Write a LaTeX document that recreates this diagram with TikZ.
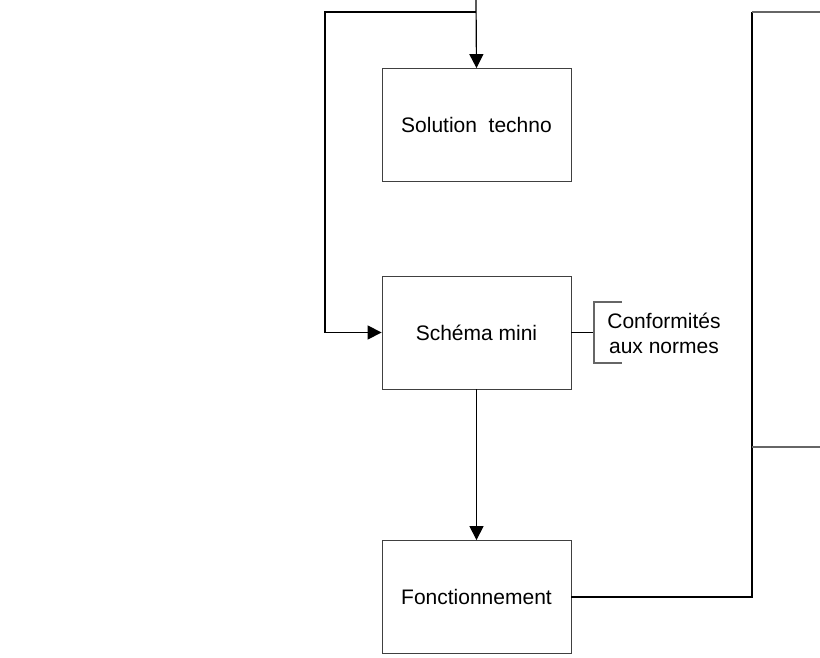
\documentclass[tikz,border=0pt]{standalone}
\usepackage{fontspec}
\setmainfont{Liberation Sans}
\usepackage{tikz}
\usetikzlibrary{arrows.meta, positioning}
\tikzset{
  stagebox/.style={draw=black!75, thin, minimum width=94.5pt, minimum height=56.5pt, inner sep=0pt, align=center, font=\fontsize{10.5}{12.5}\selectfont},
  flowline/.style={-{Triangle[length=7pt,width=7pt]}, draw=black, semithick},
  plainline/.style={draw=black, semithick},
  greyline/.style={draw=black!60, semithick},
  notelabel/.style={inner sep=0pt, align=center, font=\fontsize{10.5}{12.5}\selectfont}
}

\begin{document}
\begin{tikzpicture}[x=0.5pt, y=-0.5pt]
  \useasboundingbox (0,0) rectangle (820,658);

  \node[stagebox] at (476.5,125) (solution) {Solution\ \ techno};
  \node[stagebox] at (476.5,332.5) (schema) {Schéma mini};
  \node[stagebox] at (476.5,597) (fonct) {Fonctionnement};
  \node[notelabel] at (664,333) (normes) {Conformités\\aux normes};

  \coordinate (entree) at (476,0);
  \coordinate (branche) at (476,12);
  \coordinate (retour) at (752,12);
  \coordinate (sortie) at (820,12);
  \coordinate (milieu) at (752,447);
  \coordinate (sortieb) at (820,447);

  % entree vers la solution, et retour vers le schema
  \draw[flowline] (entree) -- (solution.north);
  \draw[flowline] (branche) -- (325,12) |- (schema.west);
  \draw[flowline] (schema.south) -- (fonct.north);

  % accolade des normes
  \draw[plainline] (schema.east) -- (594,332.5);
  \draw[greyline] (622,302) -- (594,302) -- (594,363) -- (622,363);

  % sortie a droite
  \draw[plainline] (fonct.east) -| (retour);
  \draw[greyline] (retour) -- (sortie);
  \draw[greyline] (milieu) -- (sortieb);
\end{tikzpicture}
\end{document}
